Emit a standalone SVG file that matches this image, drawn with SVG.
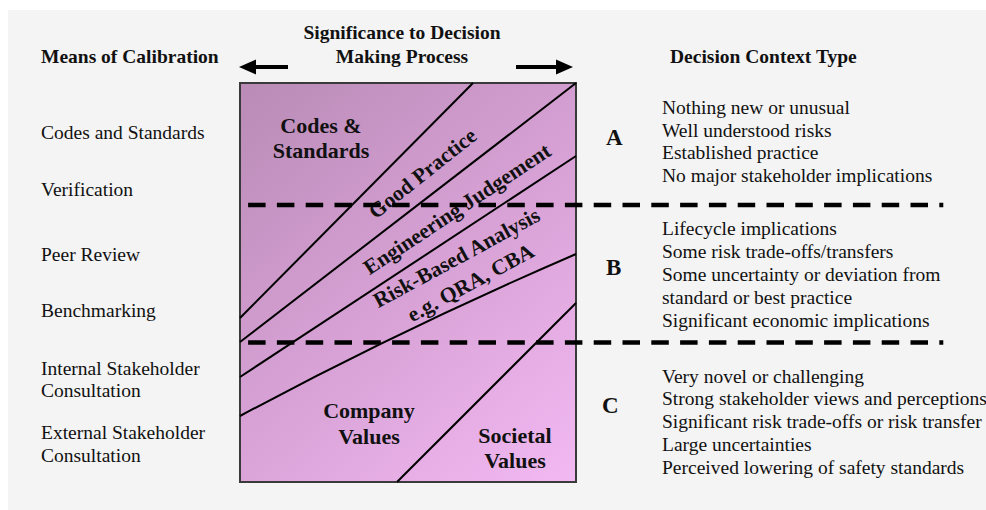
<svg xmlns="http://www.w3.org/2000/svg" width="986" height="510" viewBox="0 0 986 510">
<defs>
<linearGradient id="bg" gradientUnits="userSpaceOnUse" x1="240" y1="83" x2="576" y2="482">
<stop offset="0" stop-color="#b98bb6"/>
<stop offset="0.5" stop-color="#d7a1d5"/>
<stop offset="1" stop-color="#f2b9f2"/>
</linearGradient>
<style>
text{font-family:"Liberation Serif","Times New Roman",serif;fill:#111;}
.n{font-size:19.5px;}
.b{font-size:19.5px;font-weight:bold;}
.in{font-size:22px;font-weight:bold;text-anchor:middle;}
.rot{font-size:21.5px;font-weight:bold;text-anchor:middle;}
.L{font-size:23px;font-weight:bold;}
.ln{fill:none;stroke:#000;stroke-width:2;}
.dash{fill:none;stroke:#000;stroke-width:4.5;stroke-dasharray:17.5 11.3;stroke-dashoffset:13.5;}
.arr{stroke:#000;stroke-width:4;fill:none;}
</style>
</defs>
<rect x="8" y="10" width="978" height="500" fill="#f4f4f4"/>

<g id="title">
<text class="b" x="402" y="39" text-anchor="middle">Significance to Decision</text>
<text class="b" x="402" y="62.5" text-anchor="middle">Making Process</text>
<line class="arr" x1="288" y1="67" x2="252" y2="67"/>
<polygon points="239,67 256,59.5 256,74.5" fill="#000"/>
<line class="arr" x1="516" y1="67" x2="560" y2="67"/>
<polygon points="573,67 556,59.5 556,74.5" fill="#000"/>
</g>

<g id="chart">
<rect x="240" y="83" width="336" height="399" fill="url(#bg)" stroke="#3a3a3a" stroke-width="2"/>
<line class="ln" x1="473" y1="83" x2="240" y2="318"/>
<line class="ln" x1="576" y1="83" x2="240" y2="342"/>
<line class="ln" x1="576" y1="156" x2="240" y2="377"/>
<path class="ln" d="M240,416 Q400,330 576,254"/>
<line class="ln" x1="576" y1="303" x2="397" y2="482"/>
<text class="in" x="321" y="133">Codes &amp;</text>
<text class="in" x="321" y="158">Standards</text>
<text class="rot" transform="translate(427,179) rotate(-38.5)">Good Practice</text>
<text class="rot" transform="translate(461,215) rotate(-33.5)">Engineering Judgement</text>
<text class="rot" transform="translate(460,264) rotate(-28.5)">Risk-Based Analysis</text>
<text class="rot" transform="translate(474,289) rotate(-28.5)">e.g. QRA, CBA</text>
<text class="in" x="369" y="418">Company</text>
<text class="in" x="369" y="444">Values</text>
<text class="in" x="515" y="443">Societal</text>
<text class="in" x="515" y="468">Values</text>
</g>

<g id="dividers">
<line class="dash" x1="943.3" y1="205" x2="240" y2="205"/>
<line class="dash" x1="943.3" y1="342.5" x2="240" y2="342.5"/>
</g>

<g id="means">
<text class="b" x="41" y="63">Means of Calibration</text>
<text class="n" x="41" y="139">Codes and Standards</text>
<text class="n" x="41" y="196">Verification</text>
<text class="n" x="41" y="261">Peer Review</text>
<text class="n" x="41" y="317">Benchmarking</text>
<text class="n" x="41" y="375">Internal Stakeholder</text>
<text class="n" x="41" y="397">Consultation</text>
<text class="n" x="41" y="439">External Stakeholder</text>
<text class="n" x="41" y="461.5">Consultation</text>
</g>

<g id="context">
<text class="b" x="670" y="63">Decision Context Type</text>
</g>

<g id="typeA">
<text class="L" x="606" y="145">A</text>
<text class="n" x="662" y="114">Nothing new or unusual</text>
<text class="n" x="662" y="136.5">Well understood risks</text>
<text class="n" x="662" y="159">Established practice</text>
<text class="n" x="662" y="181.5">No major stakeholder implications</text>
</g>

<g id="typeB">
<text class="L" x="606" y="275">B</text>
<text class="n" x="662" y="235">Lifecycle implications</text>
<text class="n" x="662" y="258">Some risk trade-offs/transfers</text>
<text class="n" x="662" y="281">Some uncertainty or deviation from</text>
<text class="n" x="662" y="303.5">standard or best practice</text>
<text class="n" x="662" y="326.5">Significant economic implications</text>
</g>

<g id="typeC">
<text class="L" x="602" y="413">C</text>
<text class="n" x="662" y="382.5">Very novel or challenging</text>
<text class="n" x="662" y="405">Strong stakeholder views and perceptions</text>
<text class="n" x="662" y="428">Significant risk trade-offs or risk transfer</text>
<text class="n" x="662" y="451">Large uncertainties</text>
<text class="n" x="662" y="474">Perceived lowering of safety standards</text>
</g>
</svg>
